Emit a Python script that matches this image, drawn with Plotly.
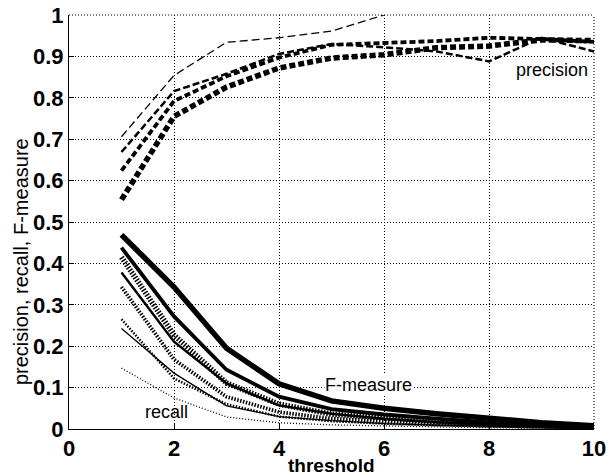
import plotly.graph_objects as go

thresholds = [1, 2, 3, 4, 5, 6, 7, 8, 9, 10]

# precision (dashed), thin -> thick
precision_a = [0.706, 0.854, 0.934, 0.945, 0.961, 1.000, None, None, None, None]
precision_b = [0.669, 0.816, 0.858, 0.906, 0.930, 0.922, 0.912, 0.888, 0.945, 0.912]
precision_c = [0.624, 0.792, 0.852, 0.897, 0.928, 0.933, 0.937, 0.945, 0.942, 0.935]
precision_d = [0.554, 0.755, 0.826, 0.872, 0.896, 0.904, 0.921, 0.925, 0.940, 0.938]

# F-measure (solid), thin -> thick
fmeasure_a = [0.243, 0.135, 0.056, 0.030, 0.020, 0.013, 0.009, 0.006, 0.004, 0.002]
fmeasure_b = [0.378, 0.211, 0.110, 0.057, 0.037, 0.025, 0.017, 0.011, 0.007, 0.004]
fmeasure_c = [0.438, 0.272, 0.143, 0.078, 0.048, 0.035, 0.025, 0.016, 0.010, 0.005]
fmeasure_d = [0.469, 0.343, 0.195, 0.109, 0.068, 0.050, 0.037, 0.025, 0.015, 0.008]

# recall (dotted), thin -> thick
recall_a = [0.147, 0.075, 0.029, 0.015, 0.010, 0.007, 0.005, 0.003, 0.002, 0.001]
recall_b = [0.265, 0.122, 0.060, 0.030, 0.019, 0.013, 0.009, 0.006, 0.004, 0.002]
recall_c = [0.343, 0.168, 0.078, 0.041, 0.025, 0.018, 0.013, 0.008, 0.005, 0.003]
recall_d = [0.415, 0.227, 0.111, 0.060, 0.036, 0.026, 0.019, 0.013, 0.008, 0.004]

x_ticks = [0, 2, 4, 6, 8, 10]
y_ticks = [0, 0.1, 0.2, 0.3, 0.4, 0.5, 0.6, 0.7, 0.8, 0.9, 1]
y_ticktext = ["0", "0.1", "0.2", "0.3", "0.4", "0.5", "0.6", "0.7", "0.8", "0.9", "1"]

widths = [1.3, 2.5, 3.8, 5.5]
precision_dash = ["8px,4px", "7px,3px", "6px,3px", "6px,3px"]
recall_dash = ["1px,2px", "1.5px,1.5px", "1.5px,1.5px", "1.5px,1.5px"]

fig = go.Figure()
for series, w, d in zip([recall_a, recall_b, recall_c, recall_d], widths, recall_dash):
    fig.add_trace(go.Scatter(x=thresholds, y=series, mode="lines",
                             line=dict(color="black", width=w, dash=d), showlegend=False))
for series, w in zip([fmeasure_a, fmeasure_b, fmeasure_c, fmeasure_d], widths):
    fig.add_trace(go.Scatter(x=thresholds, y=series, mode="lines",
                             line=dict(color="black", width=w), showlegend=False))
for series, w, d in zip([precision_a, precision_b, precision_c, precision_d], widths, precision_dash):
    fig.add_trace(go.Scatter(x=thresholds, y=series, mode="lines", connectgaps=False,
                             line=dict(color="black", width=w, dash=d), showlegend=False))

tick_font = dict(family="Liberation Sans, Arial", size=22, color="black", weight="bold")
grid = dict(showgrid=True, gridcolor="black", gridwidth=1, griddash="1px,2px",
            zeroline=False, showline=True, linecolor="black", linewidth=1,
            ticks="inside", ticklen=5, tickcolor="black", mirror=False, automargin=False)

fig.update_xaxes(range=[0, 10], tickvals=x_ticks, ticktext=[str(v) for v in x_ticks],
                 tickfont=tick_font, **grid)
fig.update_yaxes(range=[0, 1], tickvals=y_ticks, ticktext=y_ticktext,
                 tickfont=tick_font, **grid)

# dotted top and right border (MATLAB grid at the box edge)
fig.add_shape(type="line", xref="paper", yref="paper", x0=0, x1=1, y0=1, y1=1,
              line=dict(color="black", width=1, dash="1px,2px"))
fig.add_shape(type="line", xref="paper", yref="paper", x0=1, x1=1, y0=0, y1=1,
              line=dict(color="black", width=1, dash="1px,2px"))

# axis titles
fig.add_annotation(xref="paper", yref="paper", x=0.5, y=-0.087, yanchor="middle",
                   text="<b>threshold</b>", showarrow=False,
                   font=dict(family="Liberation Sans, Arial", size=19, color="black"))
fig.add_annotation(xref="paper", yref="paper", x=-0.09, y=0.405, xanchor="center", yanchor="middle",
                   textangle=-90, text="precision, recall, F-measure", showarrow=False,
                   font=dict(family="Liberation Sans, Arial", size=20, color="black"))

ann_font = dict(family="Liberation Sans, Arial", size=18, color="black")
fig.add_annotation(x=9.2, y=0.866, text="precision", showarrow=False, font=ann_font,
                   bgcolor="white", borderpad=0)
fig.add_annotation(x=5.71, y=0.106, text="F-measure", showarrow=False, font=ann_font,
                   bgcolor="white", borderpad=0)
fig.add_annotation(x=1.85, y=0.041, text="recall", showarrow=False, font=ann_font)

fig.update_layout(width=615, height=475, margin=dict(l=69, r=21, t=15, b=46),
                  paper_bgcolor="white", plot_bgcolor="white")

fig.write_html("out.html")
